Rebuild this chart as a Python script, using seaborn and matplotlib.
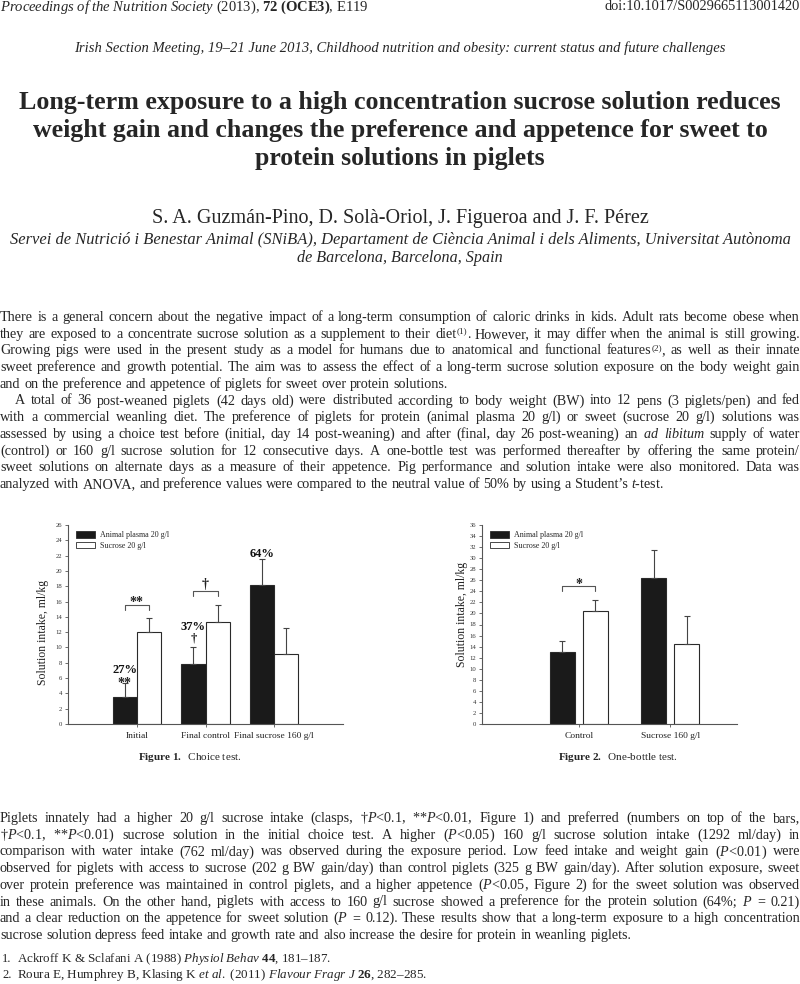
import matplotlib
matplotlib.use("Agg")
import matplotlib.pyplot as plt
import matplotlib.patches as mpatches
import pandas as pd
import seaborn as sns

# ---- chart data ----
groups1 = ["Initial", "Final control", "Final sucrose 160 g/l"]
plasma1 = [3.5, 7.8, 18.2]
sucrose1 = [12.0, 13.3, 9.1]
plasma1_se = [1.9, 2.3, 3.4]
sucrose1_se = [1.8, 2.3, 3.4]
pref1 = ["27%", "37%", "64%"]
pref1_sig = ["**", "\u2020", ""]
pair1_sig = ["**", "\u2020", ""]

groups2 = ["Control", "Sucrose 160 g/l"]
plasma2 = [13.0, 26.5]
sucrose2 = [20.5, 14.4]
plasma2_se = [2.1, 5.0]
sucrose2_se = [2.0, 5.1]
pair2_sig = ["*", ""]

solutions = ["Animal plasma 20 g/l", "Sucrose 20 g/l"]
bar_colors = ["#1a1a1a", "white"]

# ---- page text ----  (^...^ marks a superscript inside a word)
header_left = r"$\mathit{Proceedings\ of\ the\ Nutrition\ Society}$ (2013), $\mathbf{72\ (OCE3)}$, E119"
header_right = "doi:10.1017/S0029665113001420"
meeting = "Irish Section Meeting, 19–21 June 2013, Childhood nutrition and obesity: current status and future challenges"
title_lines = ["Long-term exposure to a high concentration sucrose solution reduces",
               "weight gain and changes the preference and appetence for sweet to",
               "protein solutions in piglets"]
authors = "S. A. Guzmán-Pino, D. Solà-Oriol, J. Figueroa and J. F. Pérez"
affil = ["Servei de Nutrició i Benestar Animal (SNiBA), Departament de Ciència Animal i dels Aliments, Universitat Autònoma",
         "de Barcelona, Barcelona, Spain"]

para1 = [
    "There is a general concern about the negative impact of a long-term consumption of caloric drinks in kids. Adult rats become obese when",
    "they are exposed to a concentrate sucrose solution as a supplement to their diet^(1)^. However, it may differ when the animal is still growing.",
    "Growing pigs were used in the present study as a model for humans due to anatomical and functional features^(2)^, as well as their innate",
    "sweet preference and growth potential. The aim was to assess the effect of a long-term sucrose solution exposure on the body weight gain",
    "and on the preference and appetence of piglets for sweet over protein solutions.",
]
para2 = [
    "A total of 36 post-weaned piglets (42 days old) were distributed according to body weight (BW) into 12 pens (3 piglets/pen) and fed",
    "with a commercial weanling diet. The preference of piglets for protein (animal plasma 20 g/l) or sweet (sucrose 20 g/l) solutions was",
    r"assessed by using a choice test before (initial, day 14 post-weaning) and after (final, day 26 post-weaning) an $\mathit{ad}$ $\mathit{libitum}$ supply of water",
    "(control) or 160 g/l sucrose solution for 12 consecutive days. A one-bottle test was performed thereafter by offering the same protein/",
    "sweet solutions on alternate days as a measure of their appetence. Pig performance and solution intake were also monitored. Data was",
    r"analyzed with ANOVA, and preference values were compared to the neutral value of 50% by using a Student’s $\mathit{t}$-test.",
]
para3 = [
    r"Piglets innately had a higher 20 g/l sucrose intake (clasps, $\dag\mathit{P}$<0.1, **$\mathit{P}$<0.01, Figure 1) and preferred (numbers on top of the bars,",
    r"$\dag\mathit{P}$<0.1, **$\mathit{P}$<0.01) sucrose solution in the initial choice test. A higher ($\mathit{P}$<0.05) 160 g/l sucrose solution intake (1292 ml/day) in",
    r"comparison with water intake (762 ml/day) was observed during the exposure period. Low feed intake and weight gain ($\mathit{P}$<0.01) were",
    "observed for piglets with access to sucrose (202 g BW gain/day) than control piglets (325 g BW gain/day). After solution exposure, sweet",
    r"over protein preference was maintained in control piglets, and a higher appetence ($\mathit{P}$<0.05, Figure 2) for the sweet solution was observed",
    r"in these animals. On the other hand, piglets with access to 160 g/l sucrose showed a preference for the protein solution (64%; $\mathit{P}$ = 0.21)",
    r"and a clear reduction on the appetence for sweet solution ($\mathit{P}$ = 0.12). These results show that a long-term exposure to a high concentration",
    "sucrose solution depress feed intake and growth rate and also increase the desire for protein in weanling piglets.",
]
refs = [r"Ackroff K & Sclafani A (1988) $\mathit{Physiol\ Behav}$ $\mathbf{44}$, 181–187.",
        r"Roura E, Humphrey B, Klasing K $\mathit{et\ al.}$ (2011) $\mathit{Flavour\ Fragr\ J}$ $\mathbf{26}$, 282–285."]

sns.set_style("ticks")
plt.rcParams["font.family"] = ["Liberation Serif", "DejaVu Serif"]
plt.rcParams["mathtext.fontset"] = "custom"
plt.rcParams["mathtext.rm"] = "Liberation Serif"
plt.rcParams["mathtext.it"] = "Liberation Serif:italic"
plt.rcParams["mathtext.bf"] = "Liberation Serif:bold"

fig = plt.figure(figsize=(8, 9.84), dpi=100)
page = fig.add_axes([0, 0, 1, 1])
page.set_xlim(0, 800)
page.set_ylim(984, 0)
page.axis("off")
renderer = fig.canvas.get_renderer()


def fit_text(x, y, s, width, ha="left", **kw):
    t = page.text(x, y, s, ha=ha, va="center", fontsize=10, **kw)
    w = t.get_window_extent(renderer).width
    t.set_fontsize(10 * width / w)
    return t


def make_word(w, y, size):
    # returns list of (artist, width); odd parts between ^ are superscripts
    out = []
    for k, part in enumerate(w.split("^")):
        if not part:
            continue
        if k % 2:
            t = page.text(0, y - 4.5, part, fontsize=size * 0.65, va="baseline", ha="left")
        else:
            t = page.text(0, y, part, fontsize=size, va="baseline", ha="left")
        out.append((t, t.get_window_extent(renderer).width))
    return out


def put_line(s, y, x0=0, x1=800, size=10.2, justify=True):
    words = [make_word(w, y, size) for w in s.split(" ")]
    widths = [sum(p[1] for p in parts) for parts in words]
    gap = size * 100 / 72 * 0.25
    if justify and len(words) > 1:
        gap = max((x1 - x0 - sum(widths)) / (len(words) - 1), 1.5)
    x = x0
    for parts, w in zip(words, widths):
        xp = x
        for t, pw in parts:
            t.set_x(xp)
            xp += pw
        x += w + gap


# header and title block
fit_text(0, 7, header_left, 368)
fit_text(800, 7, header_right, 195, ha="right")
fit_text(400, 48, meeting, 650, ha="center", style="italic")
for i, (line, w) in enumerate(zip(title_lines, [764, 738, 290])):
    fit_text(400, 102 + 28.5 * i, line, w, ha="center", weight="bold")
fit_text(400, 218, authors, 496, ha="center")
fit_text(400, 240, affil[0], 782, ha="center", style="italic")
fit_text(400, 258, affil[1], 206, ha="center", style="italic")

# body paragraphs
step = 16.7
base = 321
for i, line in enumerate(para1):
    put_line(line, base + i * step, justify=(i < len(para1) - 1))
base += len(para1) * step
for i, line in enumerate(para2):
    put_line(line, base + i * step, x0=15 if i == 0 else 0, justify=(i < len(para2) - 1))
for i, line in enumerate(para3):
    put_line(line, 822 + i * step, justify=(i < len(para3) - 1))
for i, (r, w) in enumerate(zip(refs, [313, 408])):
    page.text(2, 959 + 16 * i, f"{i + 1}.", fontsize=9, va="center")
    fit_text(17, 959 + 16 * i, r, w)


def draw_chart(ax, groups, plasma, sucrose, p_se, s_se, width, gap, ymax, xlim):
    df = pd.DataFrame({
        "group": groups * 2,
        "solution": [solutions[0]] * len(groups) + [solutions[1]] * len(groups),
        "intake": plasma + sucrose,
    })
    sns.barplot(data=df, x="group", y="intake", hue="solution", palette=bar_colors,
                saturation=1, width=width, gap=gap, errorbar=None, legend=False,
                edgecolor="#2a2a2a", linewidth=0.8, ax=ax)
    for cont, errs in zip(ax.containers, [p_se, s_se]):
        for bar, e in zip(cont, errs):
            xc = bar.get_x() + bar.get_width() / 2
            ax.errorbar(xc, bar.get_height(), yerr=[[0], [e]], fmt="none",
                        ecolor="#444444", elinewidth=0.8, capsize=2.2, capthick=0.8)
    ax.set_xlim(*xlim)
    ax.set_ylim(0, ymax)
    ax.set_yticks(range(0, ymax + 1, 2))
    ax.set_xlabel("")
    ax.set_ylabel("Solution intake, ml/kg", fontsize=8.5, color="#222222")
    sns.despine(ax=ax)
    for sp in ["left", "bottom"]:
        ax.spines[sp].set_color("#555555")
        ax.spines[sp].set_linewidth(0.8)
    ax.tick_params(axis="y", labelsize=4.8, length=2.5, width=0.6, pad=1.5, colors="#555555", labelcolor="#333333")
    ax.tick_params(axis="x", labelsize=6.8, length=2.5, width=0.6, pad=3, colors="#555555", labelcolor="#222222")
    handles = [mpatches.Patch(facecolor=c, edgecolor="#2a2a2a", linewidth=0.6) for c in bar_colors]
    ax.legend(handles, solutions, loc="upper left", bbox_to_anchor=(0.015, 0.99), frameon=False,
              fontsize=5.8, handlelength=2.4, handleheight=0.9, handletextpad=0.6,
              borderpad=0, labelspacing=0.3)
    return ax


# ink centre of each symbol above its baseline, in pixels at 10 pt
ink = {"**": 8.0, "*": 8.0, "\u2020": 3.8}


def bracket(ax, errs, i, sig, px_up=13.5):
    unit = ax.get_ylim()[1] / 199
    b1, b2 = ax.containers[0][i], ax.containers[1][i]
    xa = b1.get_x() + b1.get_width() / 2
    xb = b2.get_x() + b2.get_width() / 2
    top = max(b1.get_height() + errs[0][i], b2.get_height() + errs[1][i])
    yb = top + px_up * unit
    ax.plot([xa, xa, xb, xb], [yb - 5 * unit, yb, yb, yb - 5 * unit], color="#555555", lw=0.8)
    ax.text((xa + xb) / 2, yb + (6.5 - ink[sig]) * unit, sig, ha="center", va="baseline",
            fontsize=10, weight="bold", color="#222222")


ax1 = fig.add_axes([68 / 800, 1 - 724 / 984, 275 / 800, 199 / 984])
draw_chart(ax1, groups1, plasma1, sucrose1, plasma1_se, sucrose1_se, 0.7, 0, 26, (-1, 3))
ax1.yaxis.set_label_coords(-0.07, 0.46)
ax2 = fig.add_axes([482 / 800, 1 - 724 / 984, 255 / 800, 199 / 984])
draw_chart(ax2, groups2, plasma2, sucrose2, plasma2_se, sucrose2_se, 0.72, 0.25, 36, (-1.06, 1.73))
ax2.yaxis.set_label_coords(-0.055, 0.55)

# significance brackets
for i, s in enumerate(pair1_sig):
    if s:
        bracket(ax1, (plasma1_se, sucrose1_se), i, s)
for i, s in enumerate(pair2_sig):
    if s:
        bracket(ax2, (plasma2_se, sucrose2_se), i, s)

# preference labels above plasma bars (offsets in pixels above the error bar top)
unit1 = 26 / 199
sig_off = {"**": (-4.3, 9.7, 10), "\u2020": (5.0, 17.0, 9), "": (0, 1.7, 10)}
for i, (bar, e) in enumerate(zip(ax1.containers[0], plasma1_se)):
    xc = bar.get_x() + bar.get_width() / 2
    top = bar.get_height() + e
    s_off, p_off, s_size = sig_off[pref1_sig[i]]
    if pref1_sig[i]:
        ax1.text(xc, top + s_off * unit1, pref1_sig[i], ha="center", va="baseline",
                 fontsize=s_size, weight="bold", color="#222222")
    ax1.text(xc, top + p_off * unit1, pref1[i], ha="center", va="baseline",
             fontsize=9, weight="bold", color="#111111")

page.text(190, 757, r"$\mathbf{Figure\ 1.}$  Choice test.", ha="center", va="center", fontsize=8)
page.text(618, 757, r"$\mathbf{Figure\ 2.}$  One-bottle test.", ha="center", va="center", fontsize=8)

fig.savefig("out.png", dpi=100)
